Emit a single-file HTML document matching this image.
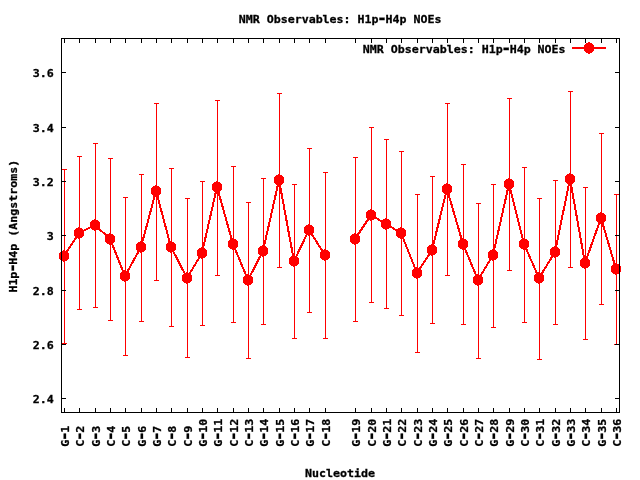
<!DOCTYPE html>
<html><head><meta charset="utf-8"><title>NMR Observables: H1p-H4p NOEs</title>
<style>html,body{margin:0;padding:0;background:#fff}svg{display:block}text{font-family:"DejaVu Sans Mono","Liberation Mono",monospace;font-weight:bold;font-size:11.63px;fill:#000;stroke:#000;stroke-width:0.3px}.h{font-size:16.5px}</style></head><body>
<svg width="640" height="480" viewBox="0 0 640 480">
<rect width="640" height="480" fill="#fff"/>
<text transform="translate(340.1,23) scale(1,0.945)" text-anchor="middle">NMR Observables: H1p<tspan class="h" dx="-1.47" dy="0.5">-</tspan><tspan dx="-1.47" dy="-0.5">H4p NOEs</tspan></text>
<text transform="translate(565.6,53) scale(1,0.945)" text-anchor="end">NMR Observables: H1p<tspan class="h" dx="-1.47" dy="0.5">-</tspan><tspan dx="-1.47" dy="-0.5">H4p NOEs</tspan></text>
<text transform="translate(53.8,77) scale(1,0.945)" text-anchor="end">3.6</text>
<text transform="translate(53.8,132) scale(1,0.945)" text-anchor="end">3.4</text>
<text transform="translate(53.8,186) scale(1,0.945)" text-anchor="end">3.2</text>
<text transform="translate(53.8,240) scale(1,0.945)" text-anchor="end">3</text>
<text transform="translate(53.8,295) scale(1,0.945)" text-anchor="end">2.8</text>
<text transform="translate(53.8,349) scale(1,0.945)" text-anchor="end">2.6</text>
<text transform="translate(53.8,403) scale(1,0.945)" text-anchor="end">2.4</text>
<text transform="translate(17,226.2) rotate(-90) scale(1,0.945)" text-anchor="middle">H1p<tspan class="h" dx="-1.47" dy="0.5">-</tspan><tspan dx="-1.47" dy="-0.5">H4p (Angstroms)</tspan></text>
<text transform="translate(340,477) scale(1,0.945)" text-anchor="middle">Nucleotide</text>
<text transform="translate(68.5,446.8) rotate(-90) scale(1,0.945)">G<tspan class="h" dx="-1.47" dy="0.5">-</tspan><tspan dx="-1.47" dy="-0.5">1</tspan></text>
<text transform="translate(83.5,446.8) rotate(-90) scale(1,0.945)">C<tspan class="h" dx="-1.47" dy="0.5">-</tspan><tspan dx="-1.47" dy="-0.5">2</tspan></text>
<text transform="translate(99.5,446.8) rotate(-90) scale(1,0.945)">G<tspan class="h" dx="-1.47" dy="0.5">-</tspan><tspan dx="-1.47" dy="-0.5">3</tspan></text>
<text transform="translate(114.5,446.8) rotate(-90) scale(1,0.945)">C<tspan class="h" dx="-1.47" dy="0.5">-</tspan><tspan dx="-1.47" dy="-0.5">4</tspan></text>
<text transform="translate(129.5,446.8) rotate(-90) scale(1,0.945)">C<tspan class="h" dx="-1.47" dy="0.5">-</tspan><tspan dx="-1.47" dy="-0.5">5</tspan></text>
<text transform="translate(145.5,446.8) rotate(-90) scale(1,0.945)">G<tspan class="h" dx="-1.47" dy="0.5">-</tspan><tspan dx="-1.47" dy="-0.5">6</tspan></text>
<text transform="translate(160.5,446.8) rotate(-90) scale(1,0.945)">G<tspan class="h" dx="-1.47" dy="0.5">-</tspan><tspan dx="-1.47" dy="-0.5">7</tspan></text>
<text transform="translate(175.5,446.8) rotate(-90) scale(1,0.945)">C<tspan class="h" dx="-1.47" dy="0.5">-</tspan><tspan dx="-1.47" dy="-0.5">8</tspan></text>
<text transform="translate(191.5,446.8) rotate(-90) scale(1,0.945)">C<tspan class="h" dx="-1.47" dy="0.5">-</tspan><tspan dx="-1.47" dy="-0.5">9</tspan></text>
<text transform="translate(206.5,446.8) rotate(-90) scale(1,0.945)">G<tspan class="h" dx="-1.47" dy="0.5">-</tspan><tspan dx="-1.47" dy="-0.5">10</tspan></text>
<text transform="translate(221.5,446.8) rotate(-90) scale(1,0.945)">G<tspan class="h" dx="-1.47" dy="0.5">-</tspan><tspan dx="-1.47" dy="-0.5">11</tspan></text>
<text transform="translate(237.5,446.8) rotate(-90) scale(1,0.945)">C<tspan class="h" dx="-1.47" dy="0.5">-</tspan><tspan dx="-1.47" dy="-0.5">12</tspan></text>
<text transform="translate(252.5,446.8) rotate(-90) scale(1,0.945)">C<tspan class="h" dx="-1.47" dy="0.5">-</tspan><tspan dx="-1.47" dy="-0.5">13</tspan></text>
<text transform="translate(267.5,446.8) rotate(-90) scale(1,0.945)">G<tspan class="h" dx="-1.47" dy="0.5">-</tspan><tspan dx="-1.47" dy="-0.5">14</tspan></text>
<text transform="translate(283.5,446.8) rotate(-90) scale(1,0.945)">G<tspan class="h" dx="-1.47" dy="0.5">-</tspan><tspan dx="-1.47" dy="-0.5">15</tspan></text>
<text transform="translate(298.5,446.8) rotate(-90) scale(1,0.945)">C<tspan class="h" dx="-1.47" dy="0.5">-</tspan><tspan dx="-1.47" dy="-0.5">16</tspan></text>
<text transform="translate(313.5,446.8) rotate(-90) scale(1,0.945)">G<tspan class="h" dx="-1.47" dy="0.5">-</tspan><tspan dx="-1.47" dy="-0.5">17</tspan></text>
<text transform="translate(329.5,446.8) rotate(-90) scale(1,0.945)">C<tspan class="h" dx="-1.47" dy="0.5">-</tspan><tspan dx="-1.47" dy="-0.5">18</tspan></text>
<text transform="translate(359.5,446.8) rotate(-90) scale(1,0.945)">G<tspan class="h" dx="-1.47" dy="0.5">-</tspan><tspan dx="-1.47" dy="-0.5">19</tspan></text>
<text transform="translate(375.5,446.8) rotate(-90) scale(1,0.945)">C<tspan class="h" dx="-1.47" dy="0.5">-</tspan><tspan dx="-1.47" dy="-0.5">20</tspan></text>
<text transform="translate(390.5,446.8) rotate(-90) scale(1,0.945)">G<tspan class="h" dx="-1.47" dy="0.5">-</tspan><tspan dx="-1.47" dy="-0.5">21</tspan></text>
<text transform="translate(405.5,446.8) rotate(-90) scale(1,0.945)">C<tspan class="h" dx="-1.47" dy="0.5">-</tspan><tspan dx="-1.47" dy="-0.5">22</tspan></text>
<text transform="translate(421.5,446.8) rotate(-90) scale(1,0.945)">C<tspan class="h" dx="-1.47" dy="0.5">-</tspan><tspan dx="-1.47" dy="-0.5">23</tspan></text>
<text transform="translate(436.5,446.8) rotate(-90) scale(1,0.945)">G<tspan class="h" dx="-1.47" dy="0.5">-</tspan><tspan dx="-1.47" dy="-0.5">24</tspan></text>
<text transform="translate(451.5,446.8) rotate(-90) scale(1,0.945)">G<tspan class="h" dx="-1.47" dy="0.5">-</tspan><tspan dx="-1.47" dy="-0.5">25</tspan></text>
<text transform="translate(467.5,446.8) rotate(-90) scale(1,0.945)">C<tspan class="h" dx="-1.47" dy="0.5">-</tspan><tspan dx="-1.47" dy="-0.5">26</tspan></text>
<text transform="translate(482.5,446.8) rotate(-90) scale(1,0.945)">C<tspan class="h" dx="-1.47" dy="0.5">-</tspan><tspan dx="-1.47" dy="-0.5">27</tspan></text>
<text transform="translate(497.5,446.8) rotate(-90) scale(1,0.945)">G<tspan class="h" dx="-1.47" dy="0.5">-</tspan><tspan dx="-1.47" dy="-0.5">28</tspan></text>
<text transform="translate(513.5,446.8) rotate(-90) scale(1,0.945)">G<tspan class="h" dx="-1.47" dy="0.5">-</tspan><tspan dx="-1.47" dy="-0.5">29</tspan></text>
<text transform="translate(528.5,446.8) rotate(-90) scale(1,0.945)">C<tspan class="h" dx="-1.47" dy="0.5">-</tspan><tspan dx="-1.47" dy="-0.5">30</tspan></text>
<text transform="translate(543.5,446.8) rotate(-90) scale(1,0.945)">C<tspan class="h" dx="-1.47" dy="0.5">-</tspan><tspan dx="-1.47" dy="-0.5">31</tspan></text>
<text transform="translate(559.5,446.8) rotate(-90) scale(1,0.945)">G<tspan class="h" dx="-1.47" dy="0.5">-</tspan><tspan dx="-1.47" dy="-0.5">32</tspan></text>
<text transform="translate(574.5,446.8) rotate(-90) scale(1,0.945)">G<tspan class="h" dx="-1.47" dy="0.5">-</tspan><tspan dx="-1.47" dy="-0.5">33</tspan></text>
<text transform="translate(589.5,446.8) rotate(-90) scale(1,0.945)">C<tspan class="h" dx="-1.47" dy="0.5">-</tspan><tspan dx="-1.47" dy="-0.5">34</tspan></text>
<text transform="translate(605.5,446.8) rotate(-90) scale(1,0.945)">G<tspan class="h" dx="-1.47" dy="0.5">-</tspan><tspan dx="-1.47" dy="-0.5">35</tspan></text>
<text transform="translate(620.5,446.8) rotate(-90) scale(1,0.945)">C<tspan class="h" dx="-1.47" dy="0.5">-</tspan><tspan dx="-1.47" dy="-0.5">36</tspan></text>
<defs><path id="m" d="M-1-6h2v1h2v1h1v1h1v6h-1v1h-1v1h-2v1h-2v-1h-2v-1h-1v-1h-1v-6h1v-1h1v-1h2z"/></defs>
<g stroke="#f00" fill="none" shape-rendering="crispEdges">
<path stroke-width="1" d="M64.5 169.0V344.0M62.0 169.5h5M62.0 343.5h5M79.5 156.0V310.0M77.0 156.5h5M77.0 309.5h5M95.5 143.0V308.0M93.0 143.5h5M93.0 307.5h5M110.5 158.0V321.0M108.0 158.5h5M108.0 320.5h5M125.5 197.0V356.0M123.0 197.5h5M123.0 355.5h5M141.5 174.0V322.0M139.0 174.5h5M139.0 321.5h5M156.5 103.0V281.0M154.0 103.5h5M154.0 280.5h5M171.5 168.0V327.0M169.0 168.5h5M169.0 326.5h5M187.5 198.0V358.0M185.0 198.5h5M185.0 357.5h5M202.5 181.0V326.0M200.0 181.5h5M200.0 325.5h5M217.5 100.0V276.0M215.0 100.5h5M215.0 275.5h5M233.5 166.0V323.0M231.0 166.5h5M231.0 322.5h5M248.5 202.0V359.0M246.0 202.5h5M246.0 358.5h5M263.5 178.0V325.0M261.0 178.5h5M261.0 324.5h5M279.5 93.0V268.0M277.0 93.5h5M277.0 267.5h5M294.5 184.0V339.0M292.0 184.5h5M292.0 338.5h5M309.5 148.0V313.0M307.0 148.5h5M307.0 312.5h5M325.5 172.0V339.0M323.0 172.5h5M323.0 338.5h5M355.5 157.0V322.0M353.0 157.5h5M353.0 321.5h5M371.5 127.0V303.0M369.0 127.5h5M369.0 302.5h5M386.5 139.0V309.0M384.0 139.5h5M384.0 308.5h5M401.5 151.0V316.0M399.0 151.5h5M399.0 315.5h5M417.5 194.0V353.0M415.0 194.5h5M415.0 352.5h5M432.5 176.0V324.0M430.0 176.5h5M430.0 323.5h5M447.5 103.0V276.0M445.0 103.5h5M445.0 275.5h5M463.5 164.0V325.0M461.0 164.5h5M461.0 324.5h5M478.5 203.0V359.0M476.0 203.5h5M476.0 358.5h5M493.5 184.0V328.0M491.0 184.5h5M491.0 327.5h5M509.5 98.0V271.0M507.0 98.5h5M507.0 270.5h5M524.5 167.0V323.0M522.0 167.5h5M522.0 322.5h5M539.5 198.0V360.0M537.0 198.5h5M537.0 359.5h5M555.5 180.0V325.0M553.0 180.5h5M553.0 324.5h5M570.5 91.0V268.0M568.0 91.5h5M568.0 267.5h5M585.5 187.0V340.0M583.0 187.5h5M583.0 339.5h5M601.5 133.0V305.0M599.0 133.5h5M599.0 304.5h5M616.5 194.0V345.0M614.0 194.5h5M614.0 344.5h5"/>
<polyline stroke-width="2" points="64.0,256.0 79.0,233.0 95.0,225.0 110.0,239.0 125.0,276.0 141.0,247.0 156.0,191.0 171.0,247.0 187.0,278.0 202.0,253.0 217.0,187.0 233.0,244.0 248.0,280.0 263.0,251.0 279.0,180.0 294.0,261.0 309.0,230.0 325.0,255.0"/>
<polyline stroke-width="2" points="355.0,239.0 371.0,215.0 386.0,224.0 401.0,233.0 417.0,273.0 432.0,250.0 447.0,189.0 463.0,244.0 478.0,280.0 493.0,255.0 509.0,184.0 524.0,244.0 539.0,278.0 555.0,252.0 570.0,179.0 585.0,263.0 601.0,218.0 616.0,269.0"/>
<path stroke-width="2" d="M572 48H606"/>
</g>
<g fill="#f00" shape-rendering="crispEdges">
<use href="#m" x="64" y="256"/>
<use href="#m" x="79" y="233"/>
<use href="#m" x="95" y="225"/>
<use href="#m" x="110" y="239"/>
<use href="#m" x="125" y="276"/>
<use href="#m" x="141" y="247"/>
<use href="#m" x="156" y="191"/>
<use href="#m" x="171" y="247"/>
<use href="#m" x="187" y="278"/>
<use href="#m" x="202" y="253"/>
<use href="#m" x="217" y="187"/>
<use href="#m" x="233" y="244"/>
<use href="#m" x="248" y="280"/>
<use href="#m" x="263" y="251"/>
<use href="#m" x="279" y="180"/>
<use href="#m" x="294" y="261"/>
<use href="#m" x="309" y="230"/>
<use href="#m" x="325" y="255"/>
<use href="#m" x="355" y="239"/>
<use href="#m" x="371" y="215"/>
<use href="#m" x="386" y="224"/>
<use href="#m" x="401" y="233"/>
<use href="#m" x="417" y="273"/>
<use href="#m" x="432" y="250"/>
<use href="#m" x="447" y="189"/>
<use href="#m" x="463" y="244"/>
<use href="#m" x="478" y="280"/>
<use href="#m" x="493" y="255"/>
<use href="#m" x="509" y="184"/>
<use href="#m" x="524" y="244"/>
<use href="#m" x="539" y="278"/>
<use href="#m" x="555" y="252"/>
<use href="#m" x="570" y="179"/>
<use href="#m" x="585" y="263"/>
<use href="#m" x="601" y="218"/>
<use href="#m" x="616" y="269"/>
<use href="#m" x="589" y="48"/>
</g>
<path stroke="#000" stroke-width="1" fill="none" shape-rendering="crispEdges" d="M61.5 38.5H619.5V412.5H61.5ZM64.5 412v-4M64.5 39v4M79.5 412v-4M79.5 39v4M95.5 412v-4M95.5 39v4M110.5 412v-4M110.5 39v4M125.5 412v-4M125.5 39v4M141.5 412v-4M141.5 39v4M156.5 412v-4M156.5 39v4M171.5 412v-4M171.5 39v4M187.5 412v-4M187.5 39v4M202.5 412v-4M202.5 39v4M217.5 412v-4M217.5 39v4M233.5 412v-4M233.5 39v4M248.5 412v-4M248.5 39v4M263.5 412v-4M263.5 39v4M279.5 412v-4M279.5 39v4M294.5 412v-4M294.5 39v4M309.5 412v-4M309.5 39v4M325.5 412v-4M325.5 39v4M355.5 412v-4M355.5 39v4M371.5 412v-4M371.5 39v4M386.5 412v-4M386.5 39v4M401.5 412v-4M401.5 39v4M417.5 412v-4M417.5 39v4M432.5 412v-4M432.5 39v4M447.5 412v-4M447.5 39v4M463.5 412v-4M463.5 39v4M478.5 412v-4M478.5 39v4M493.5 412v-4M493.5 39v4M509.5 412v-4M509.5 39v4M524.5 412v-4M524.5 39v4M539.5 412v-4M539.5 39v4M555.5 412v-4M555.5 39v4M570.5 412v-4M570.5 39v4M585.5 412v-4M585.5 39v4M601.5 412v-4M601.5 39v4M616.5 412v-4M616.5 39v4M62 72.5h4M619 72.5h-4M62 127.5h4M619 127.5h-4M62 181.5h4M619 181.5h-4M62 235.5h4M619 235.5h-4M62 290.5h4M619 290.5h-4M62 344.5h4M619 344.5h-4M62 398.5h4M619 398.5h-4"/>
</svg></body></html>
